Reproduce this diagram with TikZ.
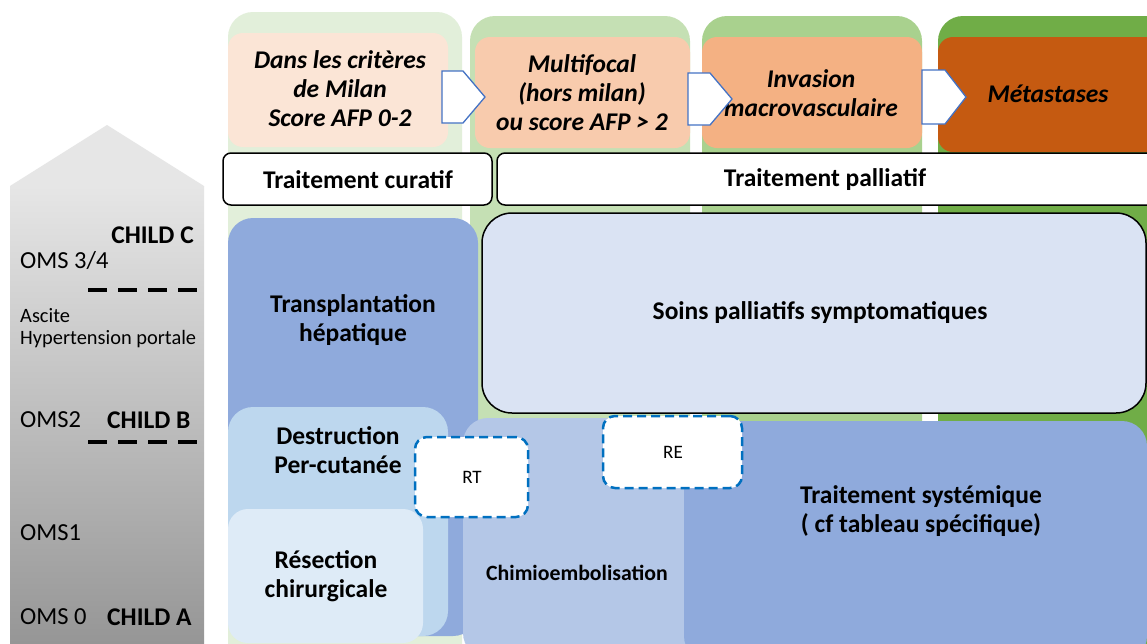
\documentclass[tikz,border=0pt]{standalone}
\usepackage{fontspec}
\setmainfont{Carlito}
\definecolor{colA}{HTML}{E2EFDA}
\definecolor{colB}{HTML}{C5E0B4}
\definecolor{colC}{HTML}{A9D18E}
\definecolor{colD}{HTML}{70AD47}
\definecolor{orA}{HTML}{FBE5D6}
\definecolor{orB}{HTML}{F8CBAD}
\definecolor{orC}{HTML}{F4B183}
\definecolor{orD}{HTML}{C55A11}
\definecolor{bluA}{HTML}{8FAADC}
\definecolor{bluB}{HTML}{B4C7E7}
\definecolor{bluC}{HTML}{BDD7EE}
\definecolor{bluD}{HTML}{DEEBF7}
\definecolor{bluE}{HTML}{DAE3F3}
\definecolor{dashblue}{HTML}{0070C0}
\definecolor{chevblue}{HTML}{4472C4}
\definecolor{grayTop}{HTML}{E6E6E6}
\definecolor{grayBot}{HTML}{969696}
\begin{document}
\begin{tikzpicture}[x=1pt,y=-1pt,
  box/.style={rectangle, anchor=north west, inner sep=0pt, outer sep=0pt, draw=none},
  lbl/.style={font=\bfseries\fontsize{25.5}{28.5}\selectfont, align=center, inner sep=0pt},
  ital/.style={font=\bfseries\itshape\fontsize{25.5}{29}\selectfont, align=center, inner sep=0pt},
  oms/.style={font=\fontsize{24.5}{28}\selectfont, anchor=west, inner sep=0pt},
  small/.style={font=\fontsize{20.4}{22}\selectfont, anchor=west, inner sep=0pt, align=left},
  child/.style={font=\bfseries\fontsize{25.5}{28}\selectfont, inner sep=0pt},
  tag/.style={font=\fontsize{19}{22}\selectfont, inner sep=0pt},
  dashbox/.style={box, fill=white, draw=dashblue, line width=2.5pt, dash pattern=on 9pt off 5pt, rounded corners=12pt},
  treat/.style={box, fill=white, draw=black, line width=1.5pt, rounded corners=8pt},
  chev/.style={draw=chevblue, fill=white, line width=1.3pt, line join=miter},
  dashline/.style={line width=4pt, dash pattern=on 19pt off 11pt}
]
\useasboundingbox (0,0) rectangle (1147,643);
\clip (0,0) rectangle (1147,643);
\fill[white] (0,0) rectangle (1147,643);

% left gray arrow
\fill[top color=grayTop, bottom color=grayBot] (10,186) rectangle (204,643);
\fill[grayTop] (10,186) -- (107,125) -- (204,186) -- cycle;
\node[child, anchor=east] (childC) at (194,235) {CHILD C};
\node[oms] (oms34) at (20,261) {OMS 3/4};
\draw[dashline] (88,290) -- (197,290);
\node[small] (ascite) at (20,328) {Ascite\\Hypertension portale};
\node[oms] (oms2) at (20,420) {OMS2};
\node[child, anchor=west] (childB) at (107,420) {CHILD B};
\draw[dashline] (88,442) -- (197,442);
\node[oms] (oms1) at (20,533) {OMS1};
\node[oms] (oms0) at (20,617) {OMS 0};
\node[child, anchor=west] (childA) at (107,617) {CHILD A};

% green columns
\node[box, fill=colA, rounded corners=25pt, minimum width=234, minimum height=700] (col1) at (228,12) {};
\node[box, fill=colB, rounded corners=25pt, minimum width=220, minimum height=700] (col2) at (470,16) {};
\node[box, fill=colC, rounded corners=25pt, minimum width=220, minimum height=700] (col3) at (702,16) {};
\node[box, fill=colD, rounded corners=25pt, minimum width=260, minimum height=700] (col4) at (938,16) {};

% orange stage boxes
\node[box, fill=orA, rounded corners=15pt, minimum width=220, minimum height=114] (st1) at (228,33) {};
\node[box, fill=orB, rounded corners=15pt, minimum width=215, minimum height=111] (st2) at (475,37) {};
\node[box, fill=orC, rounded corners=15pt, minimum width=220, minimum height=111] (st3) at (702,37) {};
\node[box, fill=orD, rounded corners=15pt, minimum width=240, minimum height=115] (st4) at (938,37) {};
\node[ital] (t1) at (340,89) {Dans les critères\\de Milan\\Score AFP 0-2};
\node[ital] (t2) at (582,93) {Multifocal\\(hors milan)\\ou score AFP > 2};
\node[ital] (t3) at (811,93) {Invasion\\macrovasculaire};
\node[ital] (t4) at (1048,94) {Métastases};

% chevrons
\draw[chev] (442,71) -- (463,71) -- (485,97) -- (463,123) -- (442,123) -- cycle;
\draw[chev] (688,73) -- (710,73) -- (732,99) -- (710,125) -- (688,125) -- cycle;
\draw[chev] (922,70) -- (945,70) -- (966,97) -- (945,124) -- (922,124) -- cycle;

% treatment headers
\node[treat, minimum width=269, minimum height=52] (cur) at (223,153) {};
\node[lbl] (curt) at (358,180) {Traitement curatif};
\node[treat, minimum width=680, minimum height=52] (pal) at (497,153) {};
\node[lbl] (palt) at (825,180) {Traitement palliatif};

% blue treatment boxes
\node[box, fill=bluA, rounded corners=25pt, minimum width=250, minimum height=418] (trans) at (228,218) {};
\node[lbl] (transt) at (353,320) {Transplantation\\hépatique};
\node[box, fill=bluE, draw=black, line width=1.5pt, rounded corners=30pt, minimum width=664, minimum height=200] (soins) at (482,213) {};
\node[lbl] (soinst) at (820,313) {Soins palliatifs symptomatiques};
\node[box, fill=bluB, rounded corners=25pt, minimum width=240, minimum height=240] (chimio) at (463,418) {};
\node[lbl, font=\bfseries\fontsize{21.8}{25}\selectfont] (chimiot) at (577,573) {Chimioembolisation};
\node[box, fill=bluA, rounded corners=25pt, minimum width=463, minimum height=240] (syst) at (684,421) {};
\node[lbl] (systt) at (921,511) {Traitement systémique\\( cf tableau spécifique)};
\node[box, fill=bluC, rounded corners=25pt, minimum width=220, minimum height=229] (destr) at (228,407) {};
\node[lbl] (destrt) at (338,450) {Destruction\\Per-cutanée};
\node[box, fill=bluD, rounded corners=20pt, minimum width=195, minimum height=134] (resec) at (228,509) {};
\node[lbl] (resect) at (326,576) {Résection\\chirurgicale};

% RT / RE
\node[dashbox, minimum width=113, minimum height=80] (rt) at (415,437) {};
\node[tag] (rtt) at (472,477) {RT};
\node[dashbox, minimum width=139, minimum height=72] (re) at (603,416) {};
\node[tag] (ret) at (673,452) {RE};
\end{tikzpicture}
\end{document}
